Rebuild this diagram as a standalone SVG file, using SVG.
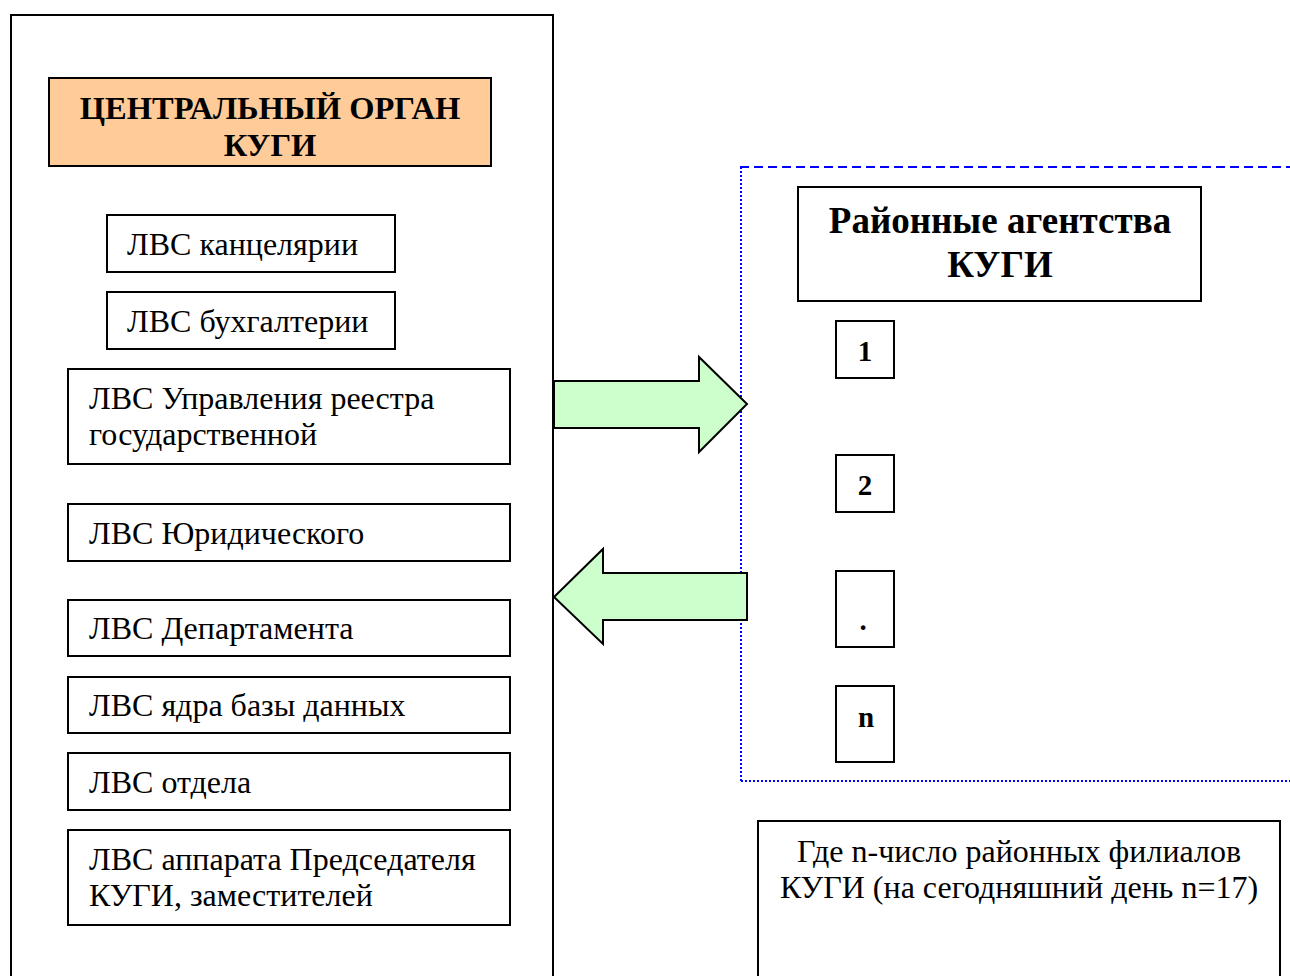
<svg xmlns="http://www.w3.org/2000/svg" width="1290" height="976" viewBox="0 0 1290 976">
<style>
.b{fill:#fff;stroke:#000;stroke-width:2}
.t{font-family:"Liberation Serif","Times New Roman",serif;font-size:32px;fill:#000}
.h{font-family:"Liberation Serif","Times New Roman",serif;font-size:32.5px;font-weight:bold;fill:#000}
.hr{font-family:"Liberation Serif","Times New Roman",serif;font-size:37px;font-weight:bold;fill:#000}
.num{font-family:"Liberation Serif","Times New Roman",serif;font-size:29px;font-weight:bold;fill:#000}
.arr{fill:#CCFFCC;stroke:#000;stroke-width:2;stroke-linejoin:miter}
</style>
<rect width="1290" height="976" fill="#fff"/>
<g id="central-frame"><rect x="11" y="15" width="542" height="975" class="b"/></g>
<g id="central"><rect x="49" y="78" width="442" height="88" fill="#FFCC99" stroke="#000" stroke-width="2"/>
<text class="h" x="270" y="119" text-anchor="middle">ЦЕНТРАЛЬНЫЙ ОРГАН</text>
<text class="h" x="270" y="156" text-anchor="middle">КУГИ</text></g>
<g id="n1"><rect x="107" y="215" width="288" height="57" class="b"/><text class="t" x="127" y="255">ЛВС канцелярии</text></g>
<g id="n2"><rect x="107" y="292" width="288" height="57" class="b"/><text class="t" x="127" y="332">ЛВС бухгалтерии</text></g>
<g id="n3"><rect x="68" y="369" width="442" height="95" class="b"/><text class="t" x="89" y="409">ЛВС Управления реестра</text><text class="t" x="89" y="445">государственной</text></g>
<g id="n4"><rect x="68" y="504" width="442" height="57" class="b"/><text class="t" x="89" y="544">ЛВС Юридического</text></g>
<g id="n5"><rect x="68" y="600" width="442" height="56" class="b"/><text class="t" x="89" y="639">ЛВС Департамента</text></g>
<g id="n6"><rect x="68" y="677" width="442" height="56" class="b"/><text class="t" x="89" y="716">ЛВС ядра базы данных</text></g>
<g id="n7"><rect x="68" y="753" width="442" height="57" class="b"/><text class="t" x="89" y="793">ЛВС отдела</text></g>
<g id="n8"><rect x="68" y="830" width="442" height="95" class="b"/><text class="t" x="89" y="870">ЛВС аппарата Председателя</text><text class="t" x="89" y="906">КУГИ, заместителей</text></g>
<g id="region-frame">
<line x1="740" y1="167" x2="1290" y2="167" stroke="#0000FF" stroke-width="2" stroke-dasharray="9,5"/>
<line x1="741" y1="167" x2="741" y2="781" stroke="#0000FF" stroke-width="2" stroke-dasharray="2,2"/>
<line x1="741" y1="781" x2="1290" y2="781" stroke="#0000FF" stroke-width="2" stroke-dasharray="2,2"/>
</g>
<g id="regional"><rect x="798" y="187" width="403" height="114" class="b"/>
<text class="hr" x="1000" y="233" text-anchor="middle">Районные агентства</text>
<text class="hr" x="1000" y="277" text-anchor="middle">КУГИ</text></g>
<g id="r1"><rect x="836" y="321" width="58" height="57" class="b"/><text class="num" x="865" y="361" text-anchor="middle">1</text></g>
<g id="r2"><rect x="836" y="455" width="58" height="57" class="b"/><text class="num" x="865" y="495" text-anchor="middle">2</text></g>
<g id="r3"><rect x="836" y="571" width="58" height="76" class="b"/><text class="num" x="863" y="630" text-anchor="middle">.</text></g>
<g id="rn"><rect x="836" y="686" width="58" height="76" class="b"/><text class="num" x="866" y="727" text-anchor="middle">n</text></g>
<g id="note"><rect x="758" y="821" width="522" height="170" class="b"/>
<text class="t" x="1019" y="862" text-anchor="middle">Где n-число районных филиалов</text>
<text class="t" x="1019" y="898" text-anchor="middle">КУГИ (на сегодняшний день n=17)</text></g>
<g id="connectors">
<polygon class="arr" points="554,381 699,381 699,357 747,404 699,452 699,428 554,428"/>
<polygon class="arr" points="747,573 603,573 603,549 554,597 603,644 603,620 747,620"/>
</g>
</svg>
